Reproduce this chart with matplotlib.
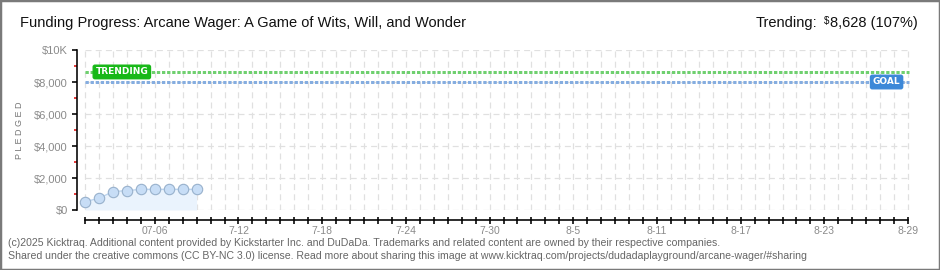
import numpy as np
import matplotlib.pyplot as plt
from matplotlib.patches import Rectangle
from matplotlib.text import Annotation

# Data (day 0 = 07-01)
days = [0, 1, 2, 3, 4, 5, 6, 7, 8]
pledged = [520, 730, 1150, 1210, 1290, 1290, 1290, 1290, 1290]
goal = 8000
trending = 8628
n_days = 59
x_label_days = [5, 11, 17, 23, 29, 35, 41, 47, 53, 59]
x_labels = ['07-06', '7-12', '7-18', '7-24', '7-30', '8-5', '8-11', '8-17', '8-23', '8-29']
y_ticks = [0, 2000, 4000, 6000, 8000, 10000]
y_labels = ['$0', '$2,000', '$4,000', '$6,000', '$8,000', '$10K']

W, H = 940, 270
fig = plt.figure(figsize=(W / 100, H / 100), dpi=100)
fig.patch.set_facecolor('white')
plt.rcParams['font.family'] = ['Liberation Sans', 'DejaVu Sans']
PT = 72 / 100  # points per pixel

# axes placed in pixel terms: y spine at x=77, data x0 at 85, top at 50, $0 at 210
px_day = 13.95
left_px, right_px, top_px, bot_px = 77, 910, 50, 210
ax = fig.add_axes([left_px / W, (H - bot_px) / H, (right_px - left_px) / W, (bot_px - top_px) / H])
x0 = -(85 - left_px) / px_day
x1 = x0 + (right_px - left_px) / px_day
ax.set_xlim(x0, x1)
ax.set_ylim(0, 10000)
ax.patch.set_alpha(0)

# grid
grid_kw = dict(color='#e0e0e0', linewidth=1.2 * PT, dashes=(5, 3.5), zorder=0)
for d in range(0, n_days + 1):
    ax.plot([d, d], [0, 10000], **grid_kw)
for v in y_ticks:
    ax.plot([0, n_days + 0.1], [v, v], **grid_kw)

# goal / trending lines
ax.plot([0, n_days + 0.1], [trending, trending], color='#6fd06f', linewidth=3 * PT, dashes=(1.1, 0.6), zorder=2)
ax.plot([0, n_days + 0.1], [goal, goal], color='#85ade0', linewidth=3 * PT, dashes=(1.1, 0.6), zorder=2)

# pledged series
ax.fill_between(days, 0, pledged, color='#eaf3fd', linewidth=0, zorder=1)
ax.plot(days, pledged, color='#bcd5f0', linewidth=1, zorder=3)
ax.plot(days, pledged, linestyle='none', marker='o', markersize=7.5,
        markerfacecolor='#c7ddf6', markeredgecolor='#98b1cc', markeredgewidth=0.8, zorder=4)

# labels on lines
ax.text(0.75, trending, 'TRENDING', ha='left', va='center', fontsize=6.5, color='white',
        family='DejaVu Sans', fontweight='bold', zorder=5,
        bbox=dict(boxstyle='round,pad=0.25,rounding_size=0.2', fc='#18b818', ec='#18b818'))
ax.text(58.45, goal, 'GOAL', ha='right', va='center', fontsize=6.5, color='white',
        family='DejaVu Sans', fontweight='bold', zorder=5,
        bbox=dict(boxstyle='round,pad=0.25,rounding_size=0.2', fc='#3c88d8', ec='#3c88d8'))

# spines
for s in ['top', 'right']:
    ax.spines[s].set_visible(False)
ax.spines['left'].set_linewidth(1.6 * PT)
ax.spines['bottom'].set_linewidth(1.6 * PT)
ax.spines['bottom'].set_position(('outward', 10 * PT))
ax.spines['bottom'].set_bounds(0, n_days)

ax.set_yticks(y_ticks)
ax.set_yticklabels(y_labels)
ax.set_yticks(range(1000, 10000, 2000), minor=True)
ax.tick_params(axis='y', which='major', direction='out', length=5 * PT, width=1.6 * PT, color='black',
               labelsize=8, labelcolor='#8a8a8a', pad=3)
ax.tick_params(axis='y', which='minor', direction='out', length=3 * PT, width=1.6 * PT, color='#e01010')

ax.set_xticks(range(0, n_days + 1), minor=True)
ax.set_xticks(x_label_days)
ax.set_xticklabels(x_labels)
ax.tick_params(axis='x', which='both', direction='inout', length=7 * PT, width=1.6 * PT, color='black',
               labelsize=7.5, labelcolor='#8a8a8a', pad=1.5)

fig.text(20 / W, 1 - 130 / H, 'P L E D G E D', rotation=90, ha='center', va='center',
         fontsize=6.5, color='#777777')

# header
fig.text(20 / W, 1 - 23 / H, 'Funding Progress: Arcane Wager: A Game of Wits, Will, and Wonder',
         ha='left', va='center', fontsize=10.5, color='#111111')
t = fig.text(918 / W, 1 - 23 / H, '8,628 (107%)', ha='right', va='center', fontsize=10.5, color='#111111')
fig.add_artist(Annotation('$', xy=(0, 1), xycoords=t, xytext=(-0.5, 0), textcoords='offset points',
                          ha='right', va='top', fontsize=7, color='#111111', annotation_clip=False))
fig.add_artist(Annotation('Trending:', xy=(0, 0.5), xycoords=t, xytext=(-9, 0), textcoords='offset points',
                          ha='right', va='center', fontsize=10.5, color='#111111', annotation_clip=False))

# footer
fig.text(8 / W, 1 - 243 / H,
         '(c)2025 Kicktraq. Additional content provided by Kickstarter Inc. and DuDaDa. '
         'Trademarks and related content are owned by their respective companies.',
         ha='left', va='center', fontsize=7.6, color='#666666')
fig.text(8 / W, 1 - 256 / H,
         'Shared under the creative commons (CC BY-NC 3.0) license. Read more about sharing this image at '
         'www.kicktraq.com/projects/dudadaplayground/arcane-wager/#sharing',
         ha='left', va='center', fontsize=7.6, color='#666666')

# outer frame
fig.patches.append(Rectangle((0, 0), 1, 1, transform=fig.transFigure, fill=False,
                             edgecolor='#7a7a7a', linewidth=2.5))

fig.savefig('out.png', dpi=100)
